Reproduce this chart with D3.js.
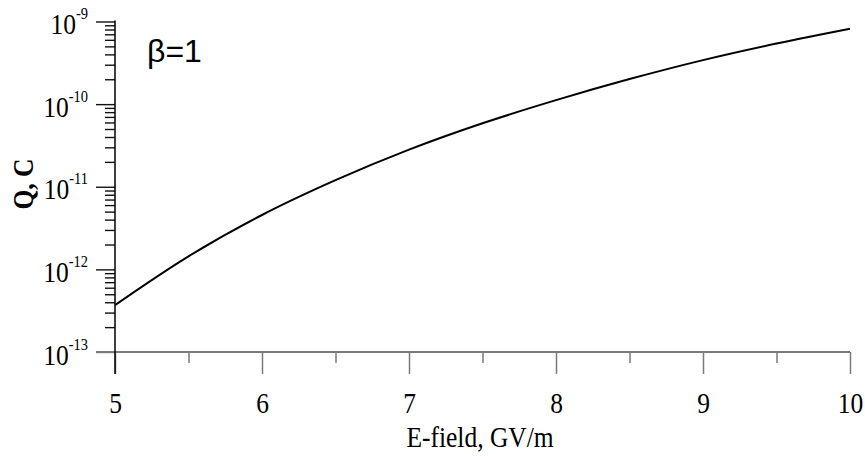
<!DOCTYPE html>
<html>
<head>
<meta charset="utf-8">
<script src="https://cdn.jsdelivr.net/npm/d3@7"></script>
<style>
  body { margin: 0; background: #fff; }
  svg { display: block; }
  .serif { font-family: "Liberation Serif", "Times New Roman", serif; }
</style>
</head>
<body>
<svg id="chart"></svg>
<script>
// values
const eField = [5, 5.5, 6, 6.5, 7, 7.5, 8, 8.5, 9, 9.5, 10];
const charge = [3.7e-13, 1.44e-12, 4.55e-12, 1.2e-11, 2.81e-11, 5.86e-11, 1.117e-10, 2.01e-10, 3.41e-10, 5.41e-10, 8.18e-10];
const xTickValues = [5, 5.5, 6, 6.5, 7, 7.5, 8, 8.5, 9, 9.5, 10];
const yExponents = [-13, -12, -11, -10, -9];
const xTitle = "E-field, GV/m";
const yTitle = "Q, C";
const betaLabel = "β=1";

const width = 865;
const height = 457;

const svg = d3.select("#chart")
  .attr("width", width)
  .attr("height", height);

const x = d3.scaleLinear().domain([5, 10]).range([115, 850]);
const y = d3.scaleLog().domain([1e-13, 1e-9]).range([352, 21.5]);

// minor + major log ticks
const yTickValues = [];
yExponents.forEach((e, i) => {
  const base = Math.pow(10, e);
  if (i < yExponents.length - 1) {
    for (let m = 1; m <= 9; m++) yTickValues.push(m * base);
  } else {
    yTickValues.push(base);
  }
});
const isMajor = v => Math.abs(Math.log10(v) - Math.round(Math.log10(v))) < 1e-6;

// X axis
const xAxis = svg.append("g")
  .attr("transform", "translate(0," + y(1e-13) + ")")
  .call(d3.axisBottom(x)
    .tickValues(xTickValues)
    .tickSize(22)
    .tickSizeOuter(0)
    .tickFormat(""));

xAxis.select(".domain").remove();
xAxis.selectAll(".tick text").remove();
xAxis.selectAll(".tick line")
  .attr("stroke", "#7a7a7a")
  .attr("stroke-width", 1.5)
  .attr("y2", d => Number.isInteger(d) ? 22 : 11);
xAxis.selectAll(".tick")
  .filter(d => Number.isInteger(d))
  .append("text")
  .attr("class", "serif")
  .attr("transform", "translate(0,61) scale(0.85,1)")
  .attr("text-anchor", "middle")
  .attr("fill", "#000")
  .attr("font-size", 30)
  .text(d => d);

// X axis line (gray, runs a bit left of the y axis)
svg.append("line")
  .attr("x1", x(5) - 19)
  .attr("x2", x(10))
  .attr("y1", y(1e-13))
  .attr("y2", y(1e-13))
  .attr("stroke", "#7a7a7a")
  .attr("stroke-width", 2);

// Y axis
const yAxis = svg.append("g")
  .attr("transform", "translate(" + x(5) + ",0)")
  .call(d3.axisLeft(y)
    .tickValues(yTickValues)
    .tickSizeOuter(0)
    .tickFormat(""));

yAxis.select(".domain").remove();
yAxis.selectAll(".tick text").remove();
yAxis.selectAll(".tick line")
  .attr("x2", d => isMajor(d) ? -19 : -10)
  .attr("stroke", d => d === 1e-13 ? "#7a7a7a" : "#111")
  .attr("stroke-width", 1.4);

const labels = yAxis.selectAll(".tick")
  .filter(d => isMajor(d))
  .append("text")
  .attr("class", "serif")
  .attr("transform", "translate(-27,12) scale(0.85,1)")
  .attr("text-anchor", "end")
  .attr("fill", "#000")
  .attr("font-size", 30);
labels.append("tspan").text("10");
labels.append("tspan")
  .attr("dy", -15)
  .attr("font-size", 17)
  .text(d => Math.round(Math.log10(d)));

svg.append("line")
  .attr("x1", x(5))
  .attr("x2", x(5))
  .attr("y1", y(1e-9) - 1)
  .attr("y2", y(1e-13) + 22)
  .attr("stroke", "#000")
  .attr("stroke-width", 1.5);

// Draw curve
svg.append("path")
  .datum(eField.map((e, i) => ({ x: e, y: charge[i] })))
  .attr("fill", "none")
  .attr("stroke", "#000")
  .attr("stroke-width", 2)
  .attr("d", d3.line()
    .curve(d3.curveCatmullRom)
    .x(d => x(d.x))
    .y(d => y(d.y)));

// Titles
svg.append("text")
  .attr("class", "serif")
  .attr("transform", "translate(480,447) scale(0.85,1)")
  .attr("text-anchor", "middle")
  .attr("font-size", 30)
  .text(xTitle);

svg.append("text")
  .attr("class", "serif")
  .attr("transform", "translate(33,184) rotate(-90) scale(0.85,1)")
  .attr("text-anchor", "middle")
  .attr("font-weight", "bold")
  .attr("font-size", 30)
  .text(yTitle);

svg.append("text")
  .attr("x", 147)
  .attr("y", 62)
  .attr("font-family", "'Liberation Sans', Arial, sans-serif")
  .attr("font-size", 32)
  .text(betaLabel);
</script>
</body>
</html>
